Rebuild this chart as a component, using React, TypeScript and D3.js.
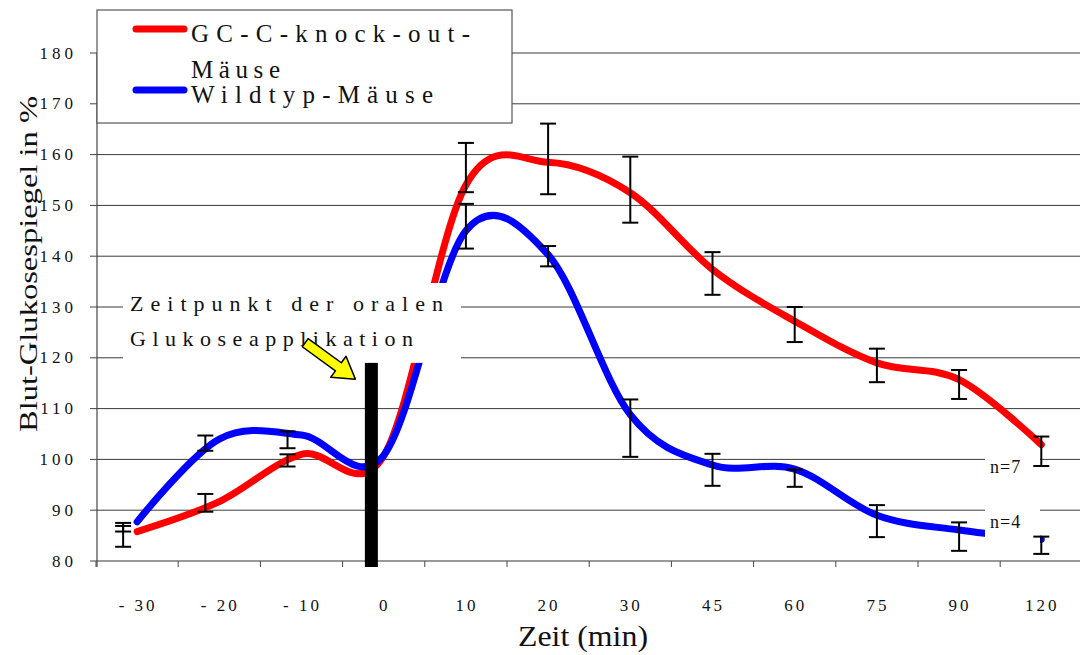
import * as d3 from "d3";

// Zeitpunkte (min)
const categories = ["-30", "-20", "-10", "0", "10", "20", "30", "45", "60", "75", "90", "120"];
const tickLabels = ["- 30", "- 20", "- 10", "0", "10", "20", "30", "45", "60", "75", "90", "120"];
const yTicks = [80, 90, 100, 110, 120, 130, 140, 150, 160, 170, 180];

// GC-C-knock-out-Mäuse (rot)
const koValues = [85.8, 91.7, 101.0, 100.7, 154.0, 158.5, 152.5, 137.4, 127.2, 119.0, 115.7, 102.9];
const koLow = [82.8, 89.7, 98.6, null, 152.6, 152.2, 146.6, 132.4, 123.1, 115.2, 111.9, 98.7];
const koHigh = [86.9, 93.2, 101.0, null, 162.3, 166.1, 159.6, 140.8, 130.0, 121.8, 117.6, 104.5];

// Wildtyp-Mäuse (blau)
const wtValues = [87.7, 104.0, 104.8, 100.8, 145.0, 140.3, 108.8, 98.9, 98.1, 89.0, 86.1, 84.3];
const wtLow = [85.8, 101.7, 102.2, null, 141.5, 138.0, 100.5, 94.8, 94.6, 84.7, 82.0, 81.4];
const wtHigh = [87.5, 104.7, 105.5, null, 150.3, 142.0, 111.8, 101.1, 98.0, 91.0, 87.6, 84.8];

const serif = "'Liberation Serif', 'Times New Roman', Times, serif";

export default function App() {
  const width = 1080;
  const height = 655;

  const x = d3.scaleBand<string>().domain(categories).range([96, 1082.4]).padding(0);
  const y = d3.scaleLinear().domain([80, 180]).range([561, 53]);
  const bw = x.bandwidth();
  const cx = (i: number) => (x(categories[i]) as number) + bw / 2;
  // Fehlerbalken bei negativen Zeiten leicht nach links versetzt
  const ex = (i: number) => cx(i) + (Number(categories[i]) < 0 ? -0.17 * bw : 0);

  const line = d3
    .line<number>()
    .x((_, i) => cx(i))
    .y((d) => y(d))
    .curve(d3.curveCardinal.tension(0));

  const left = x.range()[0] + 1;
  const bottom = y(80);

  // Glukosegabe (schwarzer Balken)
  const barX = (x("0") as number) + bw * 0.35;
  const barTop = y(119);

  const arrowTip = [barX - 16, y(115.8)];

  const errorBars = (low: (number | null)[], high: (number | null)[], key: string) =>
    low.map((lo, i) => {
      const hi = high[i];
      if (lo == null || hi == null) return null;
      const xx = ex(i);
      return (
        <g key={key + i} stroke="#000" strokeWidth={2}>
          <line x1={xx} x2={xx} y1={y(lo)} y2={y(hi)} />
          <line x1={xx - 8} x2={xx + 8} y1={y(lo)} y2={y(lo)} />
          <line x1={xx - 8} x2={xx + 8} y1={y(hi)} y2={y(hi)} />
        </g>
      );
    });

  return (
    <svg
      width={width}
      height={height}
      fontFamily={serif}
      fill="#111"
      style={{ position: "absolute", left: 0, top: 0, background: "#fff", fontFamily: serif }}
    >
      <rect x={0} y={0} width={width} height={height} fill="#fff" />

      {/* Gitternetz */}
      {yTicks.slice(1).map((t) => (
        <line key={"g" + t} x1={left} x2={width} y1={y(t)} y2={y(t)} stroke="#3a3a3a" strokeWidth={1} />
      ))}

      {/* Achsen */}
      <line x1={left} x2={width} y1={bottom} y2={bottom} stroke="#777" strokeWidth={1.5} />
      <line x1={left} x2={left} y1={y(180)} y2={bottom + 6} stroke="#444" strokeWidth={1.2} />
      {yTicks.map((t) => (
        <g key={"yt" + t}>
          <line x1={left - 7} x2={left} y1={y(t)} y2={y(t)} stroke="#444" />
          <text x={77} y={y(t)} textAnchor="end" dominantBaseline="central" fontSize={17} letterSpacing={4}>
            {t}
          </text>
        </g>
      ))}
      {[...categories, "end"].map((c, i) => {
        const xx = x.range()[0] + i * bw;
        return <line key={"xt" + c} x1={xx} x2={xx} y1={bottom} y2={bottom + 6} stroke="#444" />;
      })}
      {tickLabels.map((l, i) => (
        <text
          key={"xl" + i}
          x={cx(i) + 1}
          y={605}
          textAnchor="middle"
          dominantBaseline="central"
          fontSize={17}
          letterSpacing={3}
        >
          {l}
        </text>
      ))}
      <text
        x={518}
        y={636}
        dominantBaseline="central"
        fontSize={29}
        textLength={130}
        lengthAdjust="spacingAndGlyphs"
      >
        Zeit (min)
      </text>
      <text
        transform={`translate(28,${432}) rotate(-90)`}
        dominantBaseline="central"
        fontSize={26}
        textLength={336}
        lengthAdjust="spacingAndGlyphs"
      >
        Blut-Glukosespiegel in %
      </text>

      {/* Kurven */}
      <path d={line(koValues) || ""} fill="none" stroke="#ff0000" strokeWidth={7} strokeLinecap="round" strokeLinejoin="round" />
      <path d={line(wtValues) || ""} fill="none" stroke="#0000ff" strokeWidth={7} strokeLinecap="round" strokeLinejoin="round" />

      {/* Anmerkung */}
      <rect x={123} y={283} width={338} height={barTop - 283} fill="#fff" />
      <text x={130} y={311} fontSize={22} textLength={313} lengthAdjust="spacing">
        Zeitpunkt der oralen
      </text>
      <text x={130} y={346} fontSize={22} textLength={283} lengthAdjust="spacing">
        Glukoseapplikation
      </text>

      {/* n-Beschriftungen */}
      <rect x={985} y={450} width={55} height={34} fill="#fff" />
      <rect x={985} y={499} width={55} height={47} fill="#fff" />
      <text x={990} y={467} dominantBaseline="central" fontSize={18} letterSpacing={1}>
        n=7
      </text>
      <text x={990} y={522} dominantBaseline="central" fontSize={18} letterSpacing={1}>
        n=4
      </text>

      {errorBars(koLow, koHigh, "ko")}
      {errorBars(wtLow, wtHigh, "wt")}

      <rect x={barX - 6.5} y={barTop} width={13} height={bottom + 6 - barTop} fill="#000" />

      <polygon
        points="-62,-5 -21,-5 -21,-13 0,0 -21,13 -21,5 -62,5"
        transform={`translate(${arrowTip[0]},${arrowTip[1]}) rotate(36)`}
        fill="#ffff00"
        stroke="#000"
        strokeWidth={1.5}
        strokeLinejoin="round"
      />

      {/* Legende */}
      <rect x={left} y={10} width={415} height={113} fill="#fff" stroke="#555" strokeWidth={1.2} />
      <line x1={136} x2={184} y1={29} y2={29} stroke="#ff0000" strokeWidth={7} strokeLinecap="round" />
      <line x1={136} x2={184} y1={90} y2={90} stroke="#0000ff" strokeWidth={7} strokeLinecap="round" />
      <text x={191} y={42} fontSize={25} textLength={279} lengthAdjust="spacing">
        GC-C-knock-out-
      </text>
      <text x={191} y={78} fontSize={25} textLength={89} lengthAdjust="spacing">
        Mäuse
      </text>
      <text x={191} y={103} fontSize={25} textLength={242} lengthAdjust="spacing">
        Wildtyp-Mäuse
      </text>
    </svg>
  );
}
